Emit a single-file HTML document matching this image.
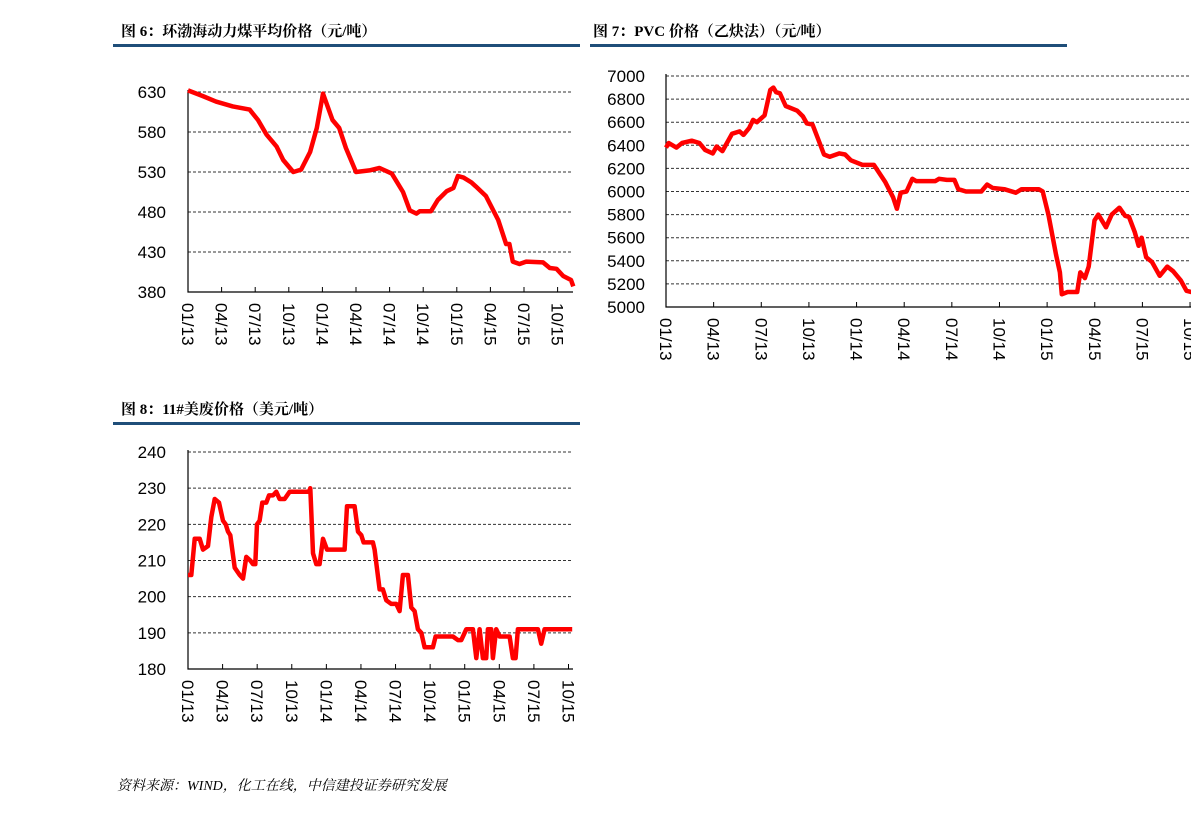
<!DOCTYPE html>
<html><head><meta charset="utf-8"><style>
body{margin:0;width:1191px;height:813px;background:#fff;overflow:hidden;position:relative;font-family:"Liberation Sans","Noto Sans CJK SC",sans-serif}
.t{position:absolute;font-family:"Liberation Serif","Noto Serif CJK SC","Noto Sans CJK SC",serif;font-weight:bold;font-size:15px;color:#000}
.bar{position:absolute;height:3px;background:#1f4e79}
svg{position:absolute;left:0;top:0}
.foot{position:absolute;left:117px;top:775px;font-size:14px;font-style:italic;font-family:"Liberation Serif","Noto Serif CJK SC",serif}
</style></head><body>
<div class="t" style="left:121px;top:20px">图 6：环渤海动力煤平均价格（元/吨）</div>
<div class="bar" style="left:113px;top:44px;width:467px"></div>
<div class="t" style="left:593px;top:20px">图 7：PVC 价格（乙炔法）（元/吨）</div>
<div class="bar" style="left:590px;top:44px;width:477px"></div>
<div class="t" style="left:121px;top:398px">图 8：11#美废价格（美元/吨）</div>
<div class="bar" style="left:113px;top:422px;width:467px"></div>
<div class="foot">资料来源：WIND，化工在线，中信建投证券研究发展</div>
<svg id="s" width="1191" height="813"></svg>
<script>
const xTicks=["01/13","04/13","07/13","10/13","01/14","04/14","07/14","10/14","01/15","04/15","07/15","10/15"];
const c6Ticks=[380,430,480,530,580,630];
const c6Months=[0,1.3,2.5,4,5.5,6.25,7,7.9,8.5,9.4,10.1,10.9,11.5,12.05,12.9,13.5,14.1,15,16.2,17.1,18.2,19.2,19.8,20.4,20.7,21.7,22.3,23.1,23.7,24.1,24.6,25.3,25.7,26.6,27.7,28.4,28.7,29,29.6,30.2,31.7,32.3,32.9,33.5,34.2,34.4];
const c6Values=[632,625,618,612,608,595,577,562,545,530,533,555,585,628,595,585,560,530,532,535,528,505,482,478,481,481,495,506,510,525,523,517,512,500,470,440,440,418,415,418,417,410,409,400,395,387];
const c7Ticks=[5000,5200,5400,5600,5800,6000,6200,6400,6600,6800,7000];
const c7Z=[198,205,225,240,265,285,300,320,330,345,370,390,400,415,425,435,455,470,478,485,495,510,540,555,565,580,595,610,625,650,665,680,710,740,770,790,800,810,825,840,850,900,910,930,950,960,980,1020,1035,1050,1080,1110,1125,1170,1180,1195,1215,1225,1230,1245,1270,1278,1290,1300,1315,1325,1345,1360,1380,1395,1405,1420,1430,1438,1450,1465,1485,1505,1520,1540,1555,1568];
const c7Values=[6380,6420,6380,6420,6440,6420,6360,6330,6390,6350,6500,6520,6490,6550,6620,6600,6660,6880,6900,6860,6850,6740,6700,6650,6590,6580,6450,6320,6300,6330,6320,6270,6230,6230,6080,5950,5850,5990,6000,6110,6090,6090,6110,6100,6100,6020,6000,6000,6060,6030,6020,5990,6020,6020,6000,5800,5450,5300,5110,5130,5130,5300,5250,5350,5750,5800,5690,5800,5860,5790,5780,5650,5530,5600,5430,5390,5270,5350,5310,5230,5140,5130];
const c8Ticks=[180,190,200,210,220,230,240];
const c8Z=[235,245,255,270,280,295,305,315,328,340,348,355,362,375,390,400,410,422,430,437,442,450,458,470,478,490,500,510,525,540,598,602,610,620,630,640,652,700,705,712,735,745,755,762,790,795,810,820,830,845,860,870,880,895,905,915,925,935,945,960,970,978,1030,1045,1055,1070,1090,1100,1110,1120,1130,1135,1145,1150,1160,1170,1200,1210,1218,1225,1285,1295,1305,1388];
const c8Values=[206,206,216,216,213,214,222,227,226,221,220,218,217,208,206,205,211,210,209,209,220,221,226,226,228,228,229,227,227,229,229,230,212,209,209,216,213,213,213,225,225,218,217,215,215,213,202,202,199,198,198,196,206,206,197,196,191,190,186,186,186,189,189,188,188,191,191,183,191,183,183,191,191,183,191,189,189,183,183,191,191,187,191,191];

const S=document.getElementById('s');const NS='http://www.w3.org/2000/svg';
function mk(t,a){const e=document.createElementNS(NS,t);for(const k in a)e.setAttribute(k,a[k]);S.appendChild(e);return e;}
function chart(id,cfg,months,vals){
  const {x0,x1,y0,y1,vmin,vmax,ticks,pxMonth,labX}=cfg;
  const X=m=>x0+m*pxMonth, Y=v=>y0-(v-vmin)/(vmax-vmin)*(y0-y1);
  ticks.forEach(v=>{
    if(v!==vmin){const g=mk('line',{x1:x0,x2:x1,y1:Y(v),y2:Y(v),stroke:'#333','stroke-width':1,'stroke-dasharray':'3,2'});
    
    }
    const t=mk('text',{x:labX,y:Y(v)+6,'text-anchor':'end','font-size':17,fill:'#000','font-family':'Liberation Sans, sans-serif'});
    t.textContent=v;
    
    
  });
  const ax=mk('path',{d:`M${x0},${y1-2}V${y0}H${x1}`,stroke:'#000','stroke-width':1.2,fill:'none'});
  
  
  xTicks.forEach((l,i)=>{
    const x=X(i*3);
    if(i>0){const tk=mk('line',{x1:x,x2:x,y1:y0,y2:y0-5,stroke:'#000','stroke-width':1});
    
    }
    const t=mk('text',{x:0,y:0,'font-size':17,fill:'#000','font-family':'Liberation Sans, sans-serif',transform:`translate(${x-6},${y0+11}) rotate(90)`});
    t.textContent=l;
    
    
  });
  const d=months.map((m,i)=>(i?'L':'M')+X(m).toFixed(1)+','+Y(vals[i]).toFixed(1)).join('');
  const p=mk('path',{d,stroke:'#ff0000','stroke-width':4.5,fill:'none','stroke-linejoin':'round'});
  
  
}
chart('chart6',{x0:188,x1:573,y0:292,y1:92,vmin:380,vmax:630,ticks:c6Ticks,pxMonth:11.2,labX:166},c6Months,c6Values);
chart('chart7',{x0:666,x1:1191,y0:307,y1:76,vmin:5000,vmax:7000,ticks:c7Ticks,pxMonth:15.88,labX:645},c7Z.map(z=>(z-198)/41.4),c7Values);
chart('chart8',{x0:188,x1:573,y0:669,y1:452,vmin:180,vmax:240,ticks:c8Ticks,pxMonth:11.53,labX:166},c8Z.map(z=>(z-235)/34.6),c8Values);
</script>
</body></html>
